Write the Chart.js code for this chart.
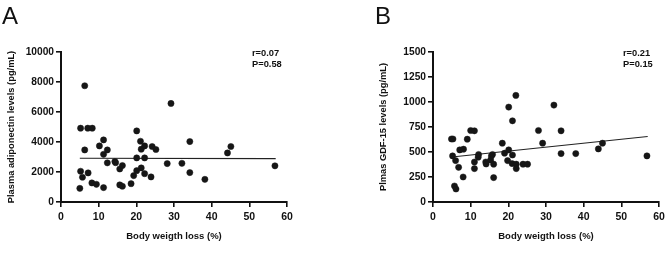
<!DOCTYPE html>
<html>
<head>
<meta charset="utf-8">
<script src="https://cdn.jsdelivr.net/npm/chart.js@4.4.0/dist/chart.umd.min.js"></script>
<style>
  html, body { margin: 0; padding: 0; background: #fff; }
  #wrap { position: relative; width: 669px; height: 253px; overflow: hidden; background: #fff; }
  canvas { position: absolute; top: 0; }
  .letter { position: absolute; font-family: "Liberation Sans", Arial, sans-serif; font-size: 24px; color: #111; line-height: 1; }
  .stat { position: absolute; font-family: "Liberation Sans", Arial, sans-serif; font-weight: bold; font-size: 9.3px; line-height: 10.7px; color: #111; white-space: pre; }
</style>
</head>
<body>
<div id="wrap">
  <canvas id="chartA" width="334" height="253" style="left:0px;width:334px;height:253px"></canvas>
  <canvas id="chartB" width="297" height="253" style="left:372px;width:297px;height:253px"></canvas>
  <div class="letter" style="left:2px;top:4px">A</div>
  <div class="letter" style="left:375px;top:4px">B</div>
  <div class="stat" style="left:252px;top:48px">r=0.07
P=0.58</div>
  <div class="stat" style="left:623px;top:48px">r=0.21
P=0.15</div>
</div>
<script>
// Panel A: body weight loss (%) vs plasma adiponectin (pg/mL)
const adipoX = [5.0, 5.2, 5.2, 5.7, 6.3, 6.3, 7.1, 7.2, 8.3, 8.2, 9.4, 10.2, 11.3, 11.3, 11.3, 12.3, 12.3, 14.3, 14.5, 15.6, 16.3, 15.6, 16.3, 18.6, 19.3, 20.1, 20.1, 20.1, 21.1, 21.3, 21.3, 22.2, 22.2, 22.2, 23.9, 24.2, 25.2, 28.2, 29.2, 32.1, 34.2, 34.2, 38.2, 44.2, 45.1, 56.8];
const adipoY = [910, 2050, 4920, 1650, 7750, 3470, 4920, 1940, 4920, 1270, 1180, 3740, 4140, 3180, 960, 3470, 2610, 2700, 2620, 2200, 2430, 1140, 1050, 1220, 1760, 4740, 2940, 2090, 4050, 3520, 2270, 3740, 2940, 1890, 1670, 3700, 3500, 2560, 6570, 2580, 4030, 1960, 1510, 3270, 3700, 2410];
const adipoTrendX = [5, 57];
const adipoTrendY = [2920, 2890];

// Panel B: body weight loss (%) vs plasma GDF-15 (pg/mL)
const gdfX = [4.9, 5.3, 5.2, 5.7, 6.1, 6.0, 6.8, 7.1, 8.1, 8.0, 9.1, 10.0, 11.0, 11.0, 11.0, 12.0, 12.1, 14.0, 14.1, 15.3, 15.5, 15.8, 16.1, 16.1, 18.4, 19.0, 20.1, 20.1, 19.8, 21.1, 21.1, 21.0, 22.0, 22.1, 22.1, 23.9, 25.1, 28.0, 29.1, 32.1, 34.0, 34.0, 37.9, 43.9, 45.0, 56.8];
const gdfY = [630, 630, 461, 160, 130, 414, 347, 521, 528, 250, 628, 715, 712, 400, 334, 448, 475, 400, 380, 420, 460, 475, 378, 244, 588, 488, 949, 521, 414, 812, 470, 384, 1066, 378, 334, 378, 378, 715, 588, 969, 712, 484, 484, 531, 588, 461];
const gdfTrendX = [5, 57];
const gdfTrendY = [450, 655];

// Axis ticks
const xTicks = [0, 10, 20, 30, 40, 50, 60];
const adipoTicks = [0, 2000, 4000, 6000, 8000, 10000];
const gdfTicks = [0, 250, 500, 750, 1000, 1250, 1500];

const xTitle = "Body weigth loss (%)";
const adipoTitle = "Plasma adiponectin levels (pg/mL)";
const gdfTitle = "Plmas GDF-15 levels (pg/mL)";

const FONT = "'Liberation Sans', Arial, sans-serif";
const INK = '#111111';

function pts(xs, ys) { return xs.map((x, i) => ({ x: x, y: ys[i] })); }

function makeChart(id, xs, ys, tx, ty, yTicks, yTitle, padLeft, padRight) {
  const yMax = yTicks[yTicks.length - 1];
  return new Chart(document.getElementById(id), {
    type: 'scatter',
    data: {
      datasets: [
        {
          type: 'line',
          data: pts(tx, ty),
          borderColor: '#222222',
          borderWidth: 1.1,
          pointRadius: 0,
          fill: false,
          order: 2
        },
        {
          data: pts(xs, ys),
          backgroundColor: '#161616',
          borderColor: '#161616',
          borderWidth: 0.5,
          pointRadius: 3.1,
          order: 1
        }
      ]
    },
    options: {
      responsive: false,
      animation: false,
      devicePixelRatio: 1,
      layout: { padding: { left: padLeft, right: padRight, top: 52, bottom: 0 } },
      plugins: { legend: { display: false }, tooltip: { enabled: false } },
      scales: {
        x: {
          type: 'linear',
          min: xTicks[0],
          max: xTicks[xTicks.length - 1],
          afterBuildTicks: s => { s.ticks = xTicks.map(v => ({ value: v })); },
          afterFit: s => { s.height = 51; },
          grid: { display: true, drawOnChartArea: false, drawTicks: true, tickLength: 5, color: INK, lineWidth: 1.6 },
          border: { display: true, color: INK, width: 2 },
          ticks: { color: INK, padding: 4, font: { family: FONT, size: 10.5, weight: 'bold' }, maxRotation: 0, callback: v => String(v) },
          title: { display: true, text: xTitle, color: INK, font: { family: FONT, size: 9.5, weight: 'bold' }, padding: { top: 0, bottom: 11 } }
        },
        y: {
          type: 'linear',
          min: 0,
          max: yMax,
          afterBuildTicks: s => { s.ticks = yTicks.map(v => ({ value: v })); },
          afterFit: s => { s.width = 61; },
          grid: { display: true, drawOnChartArea: false, drawTicks: true, tickLength: 5, color: INK, lineWidth: 1.6 },
          border: { display: true, color: INK, width: 2 },
          ticks: { color: INK, padding: 2, font: { family: FONT, size: 10.2, weight: 'bold' }, callback: v => String(v) },
          title: { display: true, text: yTitle, color: INK, font: { family: FONT, size: 9.3, weight: 'bold' }, padding: { top: 5.6, bottom: 0 } }
        }
      }
    }
  });
}

makeChart('chartA', adipoX, adipoY, adipoTrendX, adipoTrendY, adipoTicks, adipoTitle, 0, 47);
makeChart('chartB', gdfX, gdfY, gdfTrendX, gdfTrendY, gdfTicks, gdfTitle, 0, 10);
</script>
</body>
</html>
